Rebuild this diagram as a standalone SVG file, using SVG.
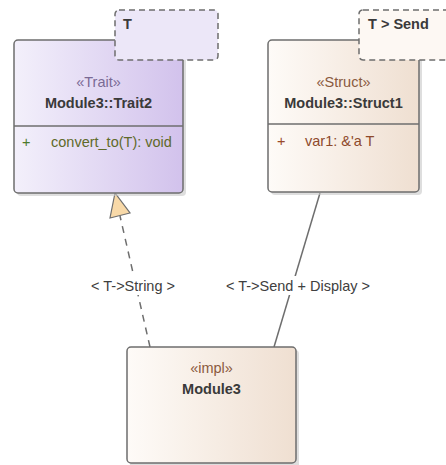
<svg xmlns="http://www.w3.org/2000/svg" width="446" height="465" viewBox="0 0 446 465">
<defs>
<linearGradient id="gTrait" x1="0" y1="0" x2="1" y2="0">
<stop offset="0" stop-color="#f3f0fb"/><stop offset="1" stop-color="#d2c2ec"/>
</linearGradient>
<linearGradient id="gStruct" x1="0" y1="0" x2="1" y2="0">
<stop offset="0" stop-color="#fefbf8"/><stop offset="1" stop-color="#efdfd1"/>
</linearGradient>
<style>
.box{stroke:#6e6e6e;stroke-width:1.5}
.shadow{fill:#c8c8c8;opacity:0.6}
.tmpl{stroke:#6e6e6e;stroke-width:1.5;stroke-dasharray:6,4}
text{font-family:"Liberation Sans","Open Sans",sans-serif;font-size:14.5px}
.c{text-anchor:middle}
.b{font-weight:bold;fill:#3a3a3a}
.lbl{fill:#404040}
.conn{stroke:#6e6e6e;stroke-width:1.5;fill:none}
</style>
</defs>
<g id="connectors">
<path class="conn" d="M150,347 L120,216" stroke-dasharray="7,6"/>
<polygon points="115,193 110,218 130,213" fill="#f8d9a8" stroke="#6e6e6e" stroke-width="1.2"/>
<path class="conn" d="M320,193 L274,347"/>
</g>
<g id="labels">
<rect x="86" y="276" width="94" height="19" fill="#fff"/>
<rect x="224" y="276" width="148" height="19" fill="#fff"/>
<text class="c lbl" x="133" y="291">&lt; T-&gt;String &gt;</text>
<text class="c lbl" x="298" y="291">&lt; T-&gt;Send + Display &gt;</text>
</g>
<g id="trait2">
<rect class="shadow" x="17" y="43" width="169" height="153" rx="4"/>
<rect class="box" x="14" y="40" width="169" height="153" rx="4" fill="url(#gTrait)"/>
<line class="box" x1="14" y1="126" x2="183" y2="126"/>
<text class="c" x="98.5" y="87" fill="#7a6a95">«Trait»</text>
<text class="c b" x="98.5" y="108">Module3::Trait2</text>
<text x="22" y="147" fill="#4c7a2c">+</text>
<text x="51" y="147" fill="#5f6a2a">convert_to(T): void</text>
</g>
<g id="trait2-template">
<rect class="tmpl" x="115" y="10" width="103" height="50" rx="4" fill="#ece7f8"/>
<text x="123" y="29" class="b">T</text>
</g>
<g id="struct1">
<rect class="shadow" x="271" y="43" width="151" height="152" rx="4"/>
<rect class="box" x="268" y="40" width="151" height="152" rx="4" fill="url(#gStruct)"/>
<line class="box" x1="268" y1="124" x2="419" y2="124"/>
<text class="c" x="343.5" y="87" fill="#8a5a3e">«Struct»</text>
<text class="c b" x="343.5" y="108">Module3::Struct1</text>
<text x="277" y="146" fill="#9a4a2a">+</text>
<text x="305" y="146" fill="#8e4a2c">var1: &amp;'a T</text>
</g>
<g id="struct1-template">
<rect class="tmpl" x="359" y="10" width="92" height="50" rx="4" fill="#fdf8f3"/>
<text x="368" y="29" class="b">T &gt; Send</text>
</g>
<g id="module3">
<rect class="shadow" x="130" y="350" width="169" height="118" rx="4"/>
<rect class="box" x="127" y="347" width="169" height="116" rx="4" fill="url(#gStruct)"/>
<text class="c" x="211.5" y="373" fill="#8a5a3e">«impl»</text>
<text class="c b" x="211.5" y="394">Module3</text>
</g>
</svg>
